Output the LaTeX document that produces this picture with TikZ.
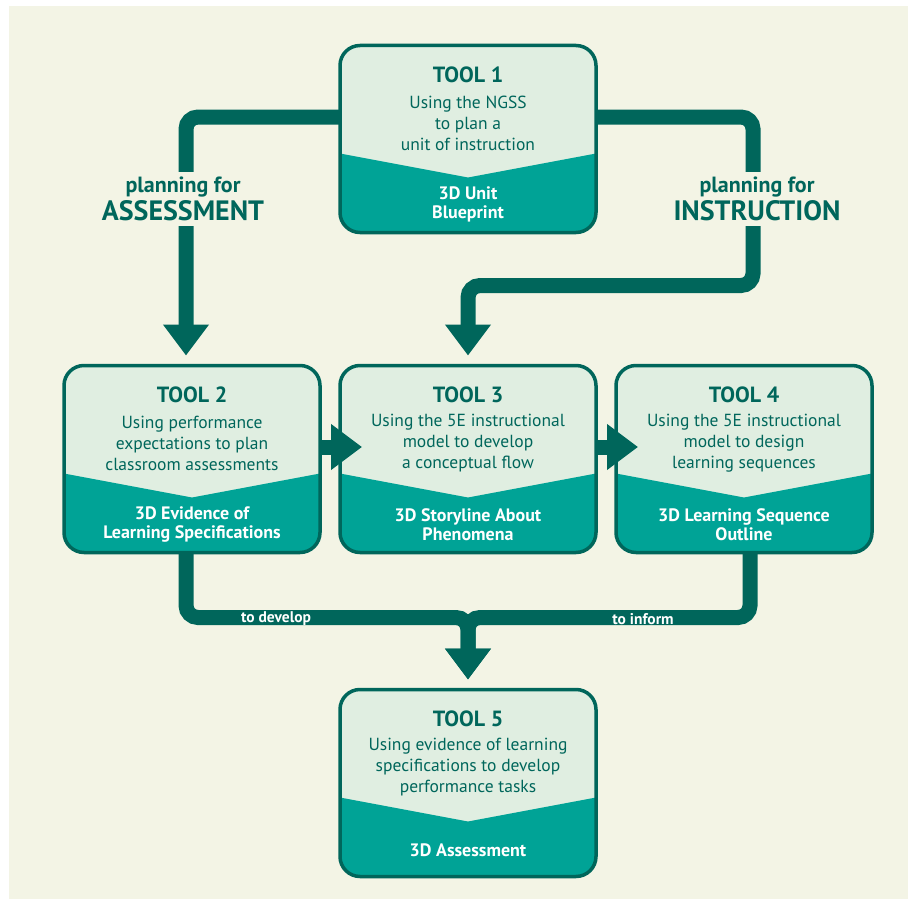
\documentclass[tikz,border=0pt]{standalone}
\usepackage{fontspec}
\setmainfont{PT Sans}
\usetikzlibrary{arrows.meta,positioning}

\definecolor{bgcol}{HTML}{F3F4E5}
\definecolor{darkteal}{HTML}{00665B}
\definecolor{midteal}{HTML}{00A396}
\definecolor{lightteal}{HTML}{E0EEE1}

\begin{document}
\begin{tikzpicture}[x=1pt,y=-1pt,
    box/.style={rectangle,minimum width=256pt,minimum height=187pt,inner sep=0pt,outer sep=0pt},
    title/.style={text=darkteal,font=\fontsize{22}{25}\selectfont\bfseries},
    desc/.style={text=darkteal,align=center,font=\fontsize{17.5}{21}\selectfont},
    result/.style={text=white,align=center,font=\fontsize{18}{19}\selectfont\bfseries},
    flow/.style={draw=darkteal,line width=15pt,rounded corners=12pt,
                 -{Triangle[width=44pt,length=31pt]}},
    plan/.style={text=darkteal,fill=bgcol,align=center,inner xsep=2pt,inner ysep=5pt,
                 font=\fontsize{28}{28}\selectfont\bfseries},
    along/.style={text=white,font=\fontsize{15.5}{17}\selectfont\bfseries}]

  \fill[bgcol] (9,6) rectangle (908,899);
  \useasboundingbox (0,0) rectangle (908,899);

  % the five tool boxes
  \node[box] (t3) at (468,459) {};
  \node[box] (t1) [above=133pt of t3] {};
  \node[box] (t2) [left=20pt of t3] {};
  \node[box] (t4) [right=20pt of t3] {};
  \node[box] (t5) [below=137pt of t3] {};

  \foreach \n in {t1,t2,t3,t4,t5}{
    \begin{scope}
      \clip[rounded corners=20pt] (\n.south west) rectangle (\n.north east);
      \fill[lightteal] (\n.south west) rectangle (\n.north east);
      \fill[midteal] ([yshift=-108pt]\n.north west) -- ([yshift=-132pt]\n.north)
        -- ([yshift=-108pt]\n.north east) -- (\n.south east) -- (\n.south west) -- cycle;
    \end{scope}
    \draw[darkteal,line width=3.5pt,rounded corners=20pt] (\n.south west) rectangle (\n.north east);
  }

  \node[title] (t1-title) at ([yshift=-29pt]t1.north) {TOOL 1};
  \node[desc] (t1-desc) at ([yshift=-78pt]t1.north) {Using the NGSS\\to plan a\\unit of instruction};
  \node[result] (t1-out) at ([yshift=28pt]t1.south) {3D Unit\\Blueprint};

  \node[title] (t2-title) at ([yshift=-29pt]t2.north) {TOOL 2};
  \node[desc] (t2-desc) at ([yshift=-78pt]t2.north) {Using performance\\expectations to plan\\classroom assessments};
  \node[result] (t2-out) at ([yshift=28pt]t2.south) {3D Evidence of\\Learning Specifications};

  \node[title] (t3-title) at ([yshift=-29pt]t3.north) {TOOL 3};
  \node[desc] (t3-desc) at ([yshift=-78pt]t3.north) {Using the 5E instructional\\model to develop\\a conceptual flow};
  \node[result] (t3-out) at ([yshift=28pt]t3.south) {3D Storyline About\\Phenomena};

  \node[title] (t4-title) at ([yshift=-29pt]t4.north) {TOOL 4};
  \node[desc] (t4-desc) at ([yshift=-78pt]t4.north) {Using the 5E instructional\\model to design\\learning sequences};
  \node[result] (t4-out) at ([yshift=28pt]t4.south) {3D Learning Sequence\\Outline};

  \node[title] (t5-title) at ([yshift=-29pt]t5.north) {TOOL 5};
  \node[desc] (t5-desc) at ([yshift=-78pt]t5.north) {Using evidence of learning\\specifications to develop\\performance tasks};
  \node[result] (t5-out) at ([yshift=26pt]t5.south) {3D Assessment};

  % connectors
  \draw[flow,shorten >=10pt] ([yshift=22pt]t1.west) -| ([xshift=-6pt]t2.north);
  \draw[flow,shorten >=10pt] ([yshift=22pt]t1.east) -- ++(157,0)
    |- ([yshift=80pt]t3.north) -- (t3.north);
  \draw[flow,shorten >=-22pt] ([yshift=12pt]t2.east) -- ([yshift=12pt]t3.west);
  \draw[flow,shorten >=-22pt] ([yshift=12pt]t3.east) -- ([yshift=12pt]t4.west);
  \draw[flow,shorten >=10pt] ([xshift=-6pt]t2.south) |- ([yshift=72pt]t5.north) -- (t5.north);
  \draw[flow,shorten >=10pt] ([xshift=6pt]t4.south) |- ([yshift=72pt]t5.north) -- (t5.north);

  \node[plan] (plan-assess) at (183,199) {{\fontsize{22}{22}\selectfont planning for}\\ASSESSMENT};
  \node[plan] (plan-instr) at (757,199) {{\fontsize{22}{22}\selectfont planning for}\\INSTRUCTION};
  \node[along] (lbl-develop) at (276,619) {to develop};
  \node[along] (lbl-inform) at (643,619) {to inform};
\end{tikzpicture}
\end{document}
